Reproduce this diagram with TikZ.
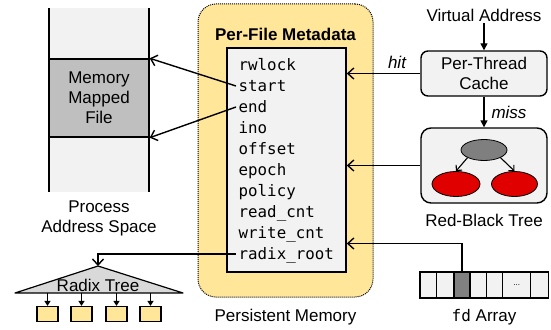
\documentclass[tikz,border=0pt]{standalone}
\usepackage{fontspec}
\setmainfont{Liberation Sans}
\setsansfont{Liberation Sans}
\newfontfamily\codefont{DejaVu Sans Mono}
\usetikzlibrary{arrows.meta,shapes.geometric,calc}
\definecolor{panel}{HTML}{F2F2F2}
\definecolor{mapped}{HTML}{BFBFBF}
\definecolor{pmem}{HTML}{FFE699}
\definecolor{rootnode}{HTML}{7F7F7F}
\definecolor{rednode}{HTML}{E00000}
\definecolor{darkcell}{HTML}{808080}
\definecolor{radixfill}{HTML}{D9D9D9}
\tikzset{
  txt/.style={font=\fontsize{17}{20}\selectfont, inner sep=1pt},
  field/.style={font=\codefont\fontsize{15.8}{21}\selectfont, anchor=west,
    inner xsep=2pt, inner ysep=0pt, text height=11pt, text depth=0pt},
  oarr/.style={line width=1.4pt, -{Straight Barb[length=6pt,width=11pt]}},
  farr/.style={line width=1.4pt, -{Triangle[length=7pt,width=7pt]}},
  sarr/.style={line width=1.2pt, -{Triangle[length=5pt,width=6pt]}},
  rbarr/.style={line width=1.1pt, -{Straight Barb[length=4pt,width=8pt]}},
  cell/.style={draw, line width=1.5pt, fill=panel, minimum height=26pt,
    inner sep=0pt, outer sep=0pt, anchor=west},
  leaf/.style={draw, line width=1.2pt, fill=pmem, minimum width=21pt,
    minimum height=15pt, inner sep=0pt},
  rbnode/.style={ellipse, draw, line width=0.8pt, inner sep=0pt},
}
\begin{document}
\begin{tikzpicture}[x=1pt,y=-1pt, line width=1.4pt]
\useasboundingbox (0,0) rectangle (551,329);

% ---- process address space ----
\fill[panel] (49,8) rectangle (149,192);
\draw (49,8) -- (49,192);
\draw (149,8) -- (149,192);
\node[txt, draw, line width=1.4pt, fill=mapped, minimum width=100pt,
  minimum height=78pt, align=center] (mmf) at (99,98) {Memory\\Mapped\\File};
\node[txt, align=center] (pas) at (99,218) {Process\\Address Space};

% ---- persistent memory with per-file metadata ----
\node[draw, densely dotted, line width=1pt, fill=pmem, rounded corners=18pt,
  minimum width=175pt, minimum height=293pt] (pm) at (285.5,150.5) {};
\node[txt, font=\bfseries\fontsize{17}{20}\selectfont] (pfm) at (285.5,34) {Per-File Metadata};
\node[draw, line width=1.6pt, fill=panel, minimum width=119pt,
  minimum height=224pt, inner sep=0pt] (meta) at (286.5,160) {};
\foreach \nm/\tx [count=\i from 0] in {rwlock/rwlock, start/start, end/end,
    ino/ino, offset/offset, epoch/epoch, policy/policy, read/read\_cnt,
    write/write\_cnt, radix/radix\_root}
  \node[field] (f-\nm) at (236,65+21*\i) {\tx};
\node[txt] (pmlabel) at (285.5,317) {Persistent Memory};

% ---- lookup path ----
\node[txt] (va) at (484,15) {Virtual Address};
\node[txt, draw, line width=1.4pt, fill=panel, rounded corners=7pt,
  minimum width=126pt, minimum height=45pt, align=center]
  (cache) at (484,73.5) {Per-Thread\\Cache};
\node[draw, line width=1.4pt, fill=panel, rounded corners=10pt,
  minimum width=126pt, minimum height=75pt] (rb) at (484,165.5) {};
\node[rbnode, fill=rootnode, minimum width=46pt, minimum height=21pt] (rbroot) at (484,150) {};
\node[rbnode, fill=rednode, minimum width=48pt, minimum height=25pt] (rbl) at (456,184) {};
\node[rbnode, fill=rednode, minimum width=46pt, minimum height=25pt] (rbr) at (514.5,184) {};
\draw[rbarr] (rbroot.south west) -- (rbl.north);
\draw[rbarr] (rbroot.south east) -- (rbr.north);
\node[txt] (rblabel) at (484,220) {Red-Black Tree};

\draw[farr] (va) -- (cache);
\draw[farr] (cache) -- (rb);
\node[txt, font=\itshape\fontsize{17}{20}\selectfont] (miss) at (509,112) {miss};
\draw[oarr] (cache.west) -- (cache.west -| meta.east);
\node[txt, font=\itshape\fontsize{17}{20}\selectfont] (hit) at (397,62) {hit};
\draw[oarr] (rb.west) -- (rb.west -| meta.east);

% ---- mapping of start / end ----
\draw[oarr] (f-start.west) -- (mmf.north east);
\draw[oarr] (f-end.west) -- (mmf.south east);

% ---- fd array ----
\node[cell, minimum width=16.7pt] (c1) at (420,285) {};
\node[cell, minimum width=17.3pt] (c2) at (c1.east) {};
\node[cell, minimum width=16pt, fill=darkcell] (c3) at (c2.east) {};
\node[cell, minimum width=16.7pt] (c4) at (c3.east) {};
\node[cell, minimum width=16pt] (c5) at (c4.east) {};
\node[cell, minimum width=28pt, font=\fontsize{8}{8}\selectfont] (c6) at (c5.east) {...};
\node[cell, minimum width=17.6pt] (c7) at (c6.east) {};
\node[txt] (fdlabel) at (484,317) {{\codefont\fontsize{16}{20}\selectfont fd} Array};
\coordinate (fdin) at ($(f-write.west)!0.5!(f-radix.west)$);
\draw[oarr] (c3.north) |- (fdin -| meta.east);

% ---- radix tree ----
\coordinate (rtop) at (98,266);
\coordinate (rleft) at (15,293);
\coordinate (rright) at (183,293);
\draw[fill=radixfill, line width=1.2pt, line join=round] (rtop) -- (rleft) -- (rright) -- cycle;
\node[txt] (rtlabel) at (98,285) {Radix Tree};
\draw[oarr] (f-radix.west) -| (rtop);
\foreach \x [count=\k] in {47.5,81.5,116.5,150.5} {
  \node[leaf] (leaf\k) at (\x,314) {};
  \draw[sarr] (leaf\k.north |- rleft) -- (leaf\k.north);
}
\end{tikzpicture}
\end{document}
